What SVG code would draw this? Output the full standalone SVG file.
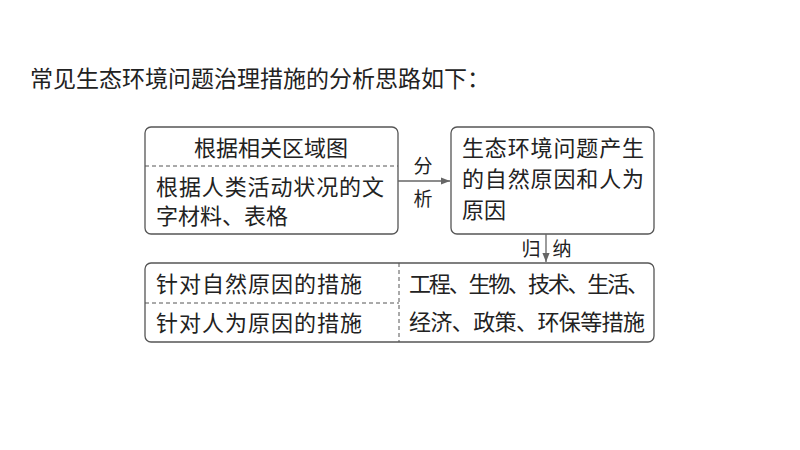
<svg xmlns="http://www.w3.org/2000/svg" width="800" height="450" viewBox="0 0 800 450">
<defs>
<style>
text{font-family:"Noto Sans CJK SC","Liberation Sans",sans-serif;fill:#222;font-size:22px}
.box{fill:#fff;stroke:#555;stroke-width:1.3}
.dash{stroke:#555;stroke-width:1;stroke-dasharray:4 3;fill:none}
.conn{stroke:#666;stroke-width:1.3;fill:none}
.lab{font-size:19px}
</style>
<marker id="ah" viewBox="0 0 10 10" refX="10" refY="5" markerWidth="7" markerHeight="7" orient="auto"><path d="M0,1 L10,5 L0,9 z" fill="#666"/></marker>
</defs>
<rect width="800" height="450" fill="#fff"/>
<text x="30" y="87" style="font-size:23px" textLength="460">常见生态环境问题治理措施的分析思路如下：</text>
<g id="n1">
<rect class="box" x="145" y="127" width="253" height="107" rx="6"/>
<line class="dash" x1="145" y1="166" x2="398" y2="166"/>
<text x="271" y="156" text-anchor="middle">根据相关区域图</text>
<text x="156" y="195" textLength="228">根据人类活动状况的文</text>
<text x="156" y="224">字材料、表格</text>
</g>
<g id="n2">
<rect class="box" x="451" y="127" width="203" height="107" rx="6"/>
<text x="462" y="156" textLength="182">生态环境问题产生</text>
<text x="462" y="187" textLength="182">的自然原因和人为</text>
<text x="462" y="218">原因</text>
</g>
<g id="n3">
<rect class="box" x="145" y="263" width="509" height="79" rx="6"/>
<line class="dash" x1="145" y1="303" x2="399" y2="303"/>
<line class="dash" x1="399" y1="263" x2="399" y2="342"/>
<text x="156" y="292" textLength="206">针对自然原因的措施</text>
<text x="156" y="331" textLength="206">针对人为原因的措施</text>
<text x="409" y="292" textLength="240">工程、生物、技术、生活、</text>
<text x="409" y="330" textLength="236">经济、政策、环保等措施</text>
</g>
<g id="connectors">
<line class="conn" x1="398" y1="181" x2="450" y2="181" marker-end="url(#ah)"/>
<line class="conn" x1="546" y1="234" x2="546" y2="262" marker-end="url(#ah)"/>
<text class="lab" x="423" y="173" text-anchor="middle">分</text>
<text class="lab" x="423" y="206" text-anchor="middle">析</text>
<text class="lab" x="531" y="256" text-anchor="middle">归</text>
<text class="lab" x="562" y="256" text-anchor="middle">纳</text>
</g>
</svg>
